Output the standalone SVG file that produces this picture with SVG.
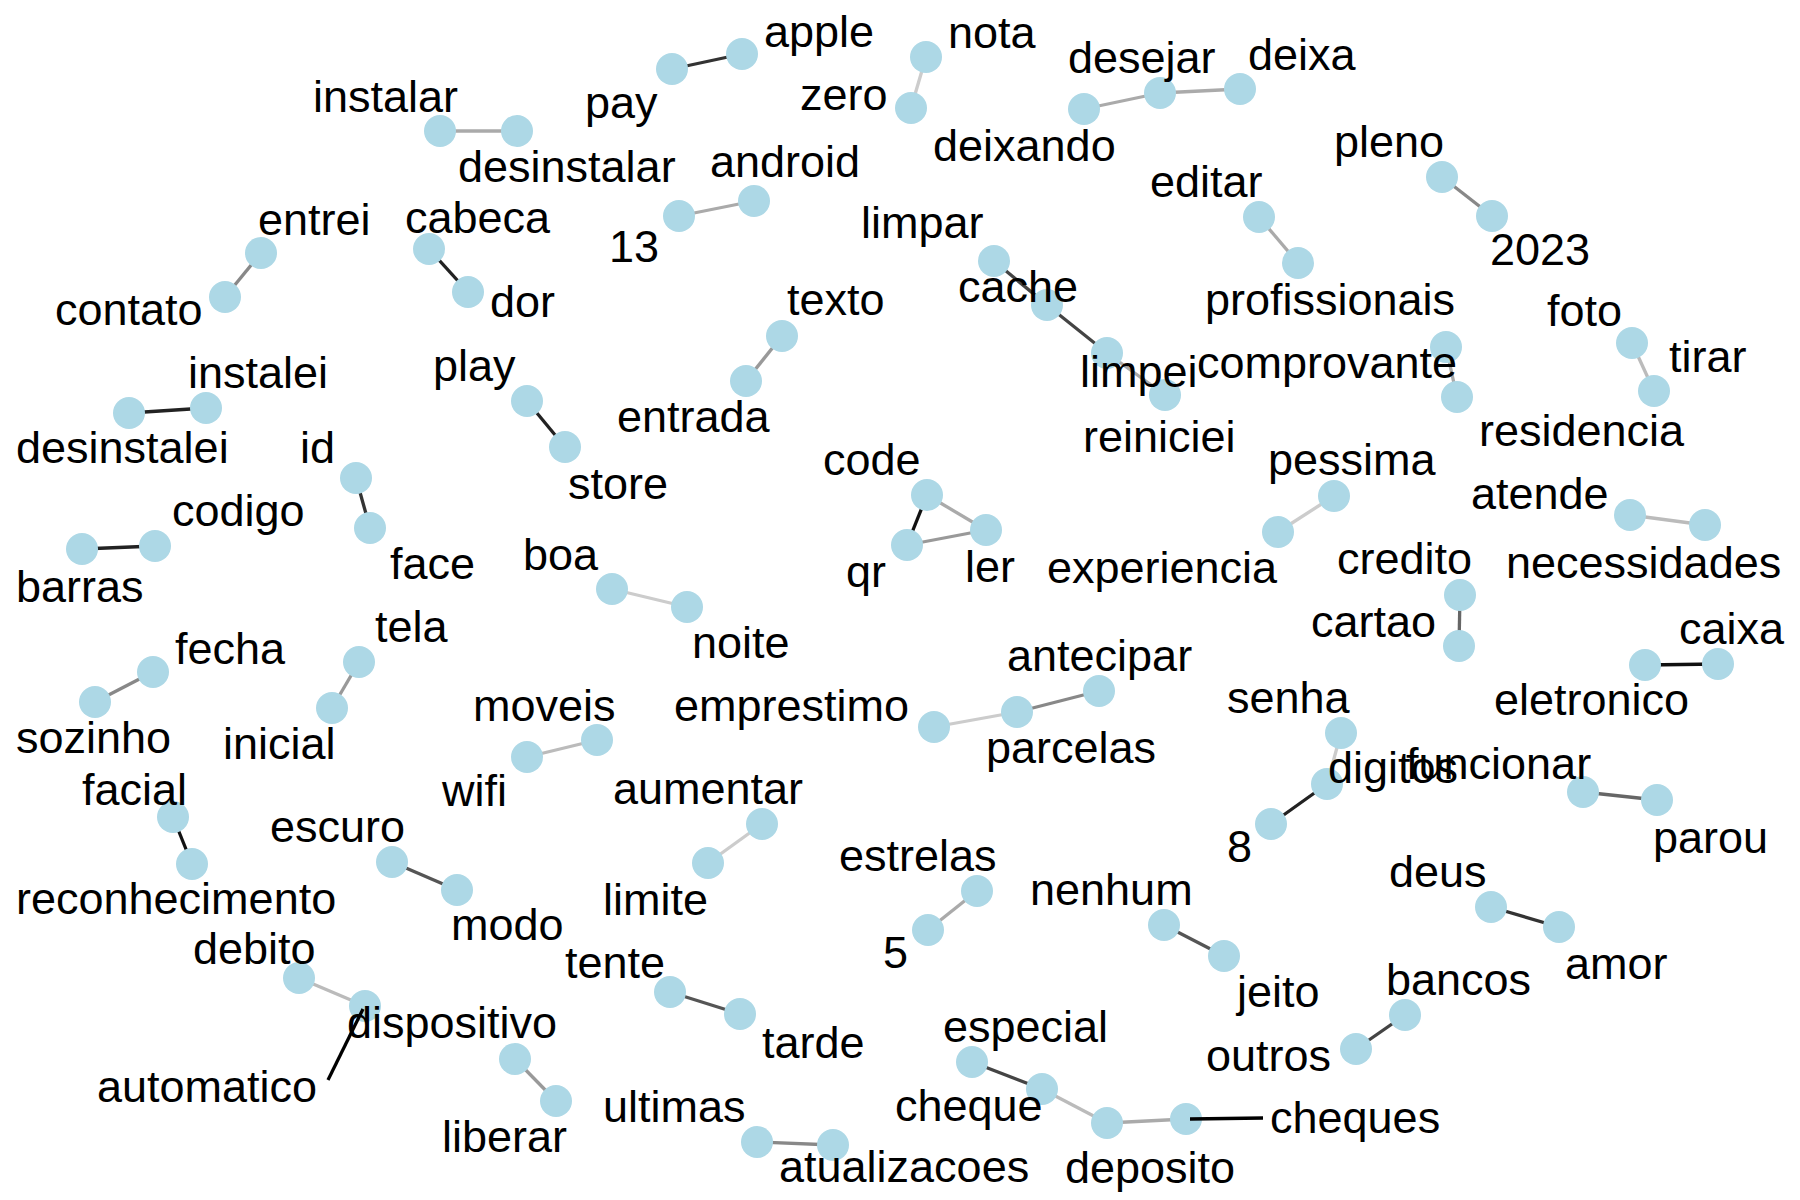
<svg xmlns="http://www.w3.org/2000/svg" width="1800" height="1200" viewBox="0 0 1800 1200">
  <style>
    .bg { fill: #ffffff; }
    .edge { stroke-width: 3.3; stroke-linecap: butt; fill: none; }
    .g1 { stroke: #111111; }
    .g2 { stroke: #222222; }
    .g3 { stroke: #333333; }
    .g4 { stroke: #444444; }
    .g5 { stroke: #555555; }
    .g6 { stroke: #666666; }
    .g8 { stroke: #888888; }
    .g9 { stroke: #999999; }
    .ga { stroke: #aaaaaa; }
    .gb { stroke: #bbbbbb; }
    .gc { stroke: #cccccc; }
    .node circle { fill: #add8e6; }
    .node text { font-family: "Liberation Sans", Arial, Helvetica, sans-serif; font-size: 45px; fill: #000000; }
    .leader { stroke: #000000; stroke-width: 3.3; fill: none; }
  </style>
  <rect class="bg" x="0" y="0" width="1800" height="1200"/>

  <!-- word pair links -->
  <g id="connectors">
    <line class="edge ga" x1="440" y1="131" x2="517" y2="131"/>
    <line class="edge g3" x1="672" y1="69" x2="742" y2="54"/>
    <line class="edge gc" x1="911" y1="108" x2="926" y2="57"/>
    <line class="edge ga" x1="1084" y1="109" x2="1160" y2="93"/>
    <line class="edge ga" x1="1160" y1="93" x2="1240" y2="89"/>
    <line class="edge ga" x1="679" y1="216" x2="754" y2="201"/>
    <line class="edge g8" x1="261" y1="253" x2="225" y2="297"/>
    <line class="edge g2" x1="429" y1="249" x2="468" y2="292"/>
    <line class="edge g8" x1="1442" y1="177" x2="1492" y2="216"/>
    <line class="edge ga" x1="1259" y1="217" x2="1298" y2="263"/>
    <line class="edge g4" x1="994" y1="261" x2="1047" y2="305"/>
    <line class="edge g4" x1="1047" y1="305" x2="1107" y2="353"/>
    <line class="edge ga" x1="1107" y1="353" x2="1165" y2="395"/>
    <line class="edge g9" x1="782" y1="336" x2="746" y2="381"/>
    <line class="edge ga" x1="1446" y1="347" x2="1457" y2="397"/>
    <line class="edge gb" x1="1632" y1="343" x2="1654" y2="391"/>
    <line class="edge g2" x1="206" y1="408" x2="129" y2="413"/>
    <line class="edge g2" x1="527" y1="401" x2="565" y2="447"/>
    <line class="edge g3" x1="356" y1="478" x2="370" y2="528"/>
    <line class="edge g2" x1="155" y1="546" x2="82" y2="549"/>
    <line class="edge g1" x1="927" y1="495" x2="907" y2="545"/>
    <line class="edge ga" x1="927" y1="495" x2="986" y2="530"/>
    <line class="edge g9" x1="907" y1="545" x2="986" y2="530"/>
    <line class="edge gc" x1="1334" y1="496" x2="1278" y2="532"/>
    <line class="edge gb" x1="1630" y1="515" x2="1705" y2="525"/>
    <line class="edge gc" x1="612" y1="589" x2="687" y2="607"/>
    <line class="edge g6" x1="1460" y1="595" x2="1459" y2="646"/>
    <line class="edge g8" x1="153" y1="672" x2="95" y2="702"/>
    <line class="edge g9" x1="359" y1="662" x2="332" y2="708"/>
    <line class="edge gc" x1="934" y1="727" x2="1017" y2="712"/>
    <line class="edge g8" x1="1017" y1="712" x2="1099" y2="691"/>
    <line class="edge g1" x1="1718" y1="664" x2="1645" y2="665"/>
    <line class="edge gb" x1="597" y1="740" x2="527" y2="757"/>
    <line class="edge gc" x1="1341" y1="733" x2="1327" y2="784"/>
    <line class="edge g2" x1="1327" y1="784" x2="1271" y2="824"/>
    <line class="edge g6" x1="1583" y1="792" x2="1657" y2="800"/>
    <line class="edge g1" x1="173" y1="817" x2="192" y2="864"/>
    <line class="edge g5" x1="392" y1="862" x2="457" y2="890"/>
    <line class="edge gc" x1="762" y1="824" x2="708" y2="863"/>
    <line class="edge ga" x1="977" y1="891" x2="928" y2="930"/>
    <line class="edge g5" x1="1164" y1="925" x2="1224" y2="956"/>
    <line class="edge g3" x1="1491" y1="907" x2="1559" y2="927"/>
    <line class="edge gb" x1="299" y1="978" x2="365" y2="1006"/>
    <line class="edge g9" x1="515" y1="1059" x2="556" y2="1101"/>
    <line class="edge g5" x1="670" y1="992" x2="740" y2="1014"/>
    <line class="edge g8" x1="757" y1="1142" x2="833" y2="1145"/>
    <line class="edge g4" x1="972" y1="1062" x2="1042" y2="1089"/>
    <line class="edge gb" x1="1042" y1="1089" x2="1107" y2="1123"/>
    <line class="edge ga" x1="1107" y1="1123" x2="1186" y2="1119"/>
    <line class="edge g4" x1="1356" y1="1049" x2="1405" y2="1015"/>
  </g>

  <!-- words -->
  <g id="n-instalar" class="node"><circle cx="440" cy="131" r="16"/><text x="313" y="112">instalar</text></g>
  <g id="n-desinstalar" class="node"><circle cx="517" cy="131" r="16"/><text x="458" y="182">desinstalar</text></g>
  <g id="n-pay" class="node"><circle cx="672" cy="69" r="16"/><text x="585" y="118">pay</text></g>
  <g id="n-apple" class="node"><circle cx="742" cy="54" r="16"/><text x="764" y="47">apple</text></g>
  <g id="n-zero" class="node"><circle cx="911" cy="108" r="16"/><text x="800" y="110">zero</text></g>
  <g id="n-nota" class="node"><circle cx="926" cy="57" r="16"/><text x="948" y="48">nota</text></g>
  <g id="n-deixando" class="node"><circle cx="1084" cy="109" r="16"/><text x="933" y="161">deixando</text></g>
  <g id="n-desejar" class="node"><circle cx="1160" cy="93" r="16"/><text x="1068" y="73">desejar</text></g>
  <g id="n-deixa" class="node"><circle cx="1240" cy="89" r="16"/><text x="1248" y="70">deixa</text></g>
  <g id="n-13" class="node"><circle cx="679" cy="216" r="16"/><text x="609" y="262">13</text></g>
  <g id="n-android" class="node"><circle cx="754" cy="201" r="16"/><text x="710" y="177">android</text></g>
  <g id="n-entrei" class="node"><circle cx="261" cy="253" r="16"/><text x="258" y="235">entrei</text></g>
  <g id="n-contato" class="node"><circle cx="225" cy="297" r="16"/><text x="55" y="325">contato</text></g>
  <g id="n-cabeca" class="node"><circle cx="429" cy="249" r="16"/><text x="405" y="233">cabeca</text></g>
  <g id="n-dor" class="node"><circle cx="468" cy="292" r="16"/><text x="490" y="317">dor</text></g>
  <g id="n-pleno" class="node"><circle cx="1442" cy="177" r="16"/><text x="1334" y="157">pleno</text></g>
  <g id="n-2023" class="node"><circle cx="1492" cy="216" r="16"/><text x="1490" y="265">2023</text></g>
  <g id="n-editar" class="node"><circle cx="1259" cy="217" r="16"/><text x="1150" y="197">editar</text></g>
  <g id="n-profissionais" class="node"><circle cx="1298" cy="263" r="16"/><text x="1205" y="315">profissionais</text></g>
  <g id="n-reiniciei" class="node"><circle cx="1165" cy="395" r="16"/><text x="1083" y="452">reiniciei</text></g>
  <g id="n-limpar" class="node"><circle cx="994" cy="261" r="16"/><text x="861" y="238">limpar</text></g>
  <g id="n-cache" class="node"><circle cx="1047" cy="305" r="16"/><text x="958" y="302">cache</text></g>
  <g id="n-limpei" class="node"><circle cx="1107" cy="353" r="16"/><text x="1080" y="387">limpei</text></g>
  <g id="n-texto" class="node"><circle cx="782" cy="336" r="16"/><text x="787" y="315">texto</text></g>
  <g id="n-entrada" class="node"><circle cx="746" cy="381" r="16"/><text x="617" y="432">entrada</text></g>
  <g id="n-comprovante" class="node"><circle cx="1446" cy="347" r="16"/><text x="1197" y="378">comprovante</text></g>
  <g id="n-residencia" class="node"><circle cx="1457" cy="397" r="16"/><text x="1479" y="446">residencia</text></g>
  <g id="n-foto" class="node"><circle cx="1632" cy="343" r="16"/><text x="1547" y="326">foto</text></g>
  <g id="n-tirar" class="node"><circle cx="1654" cy="391" r="16"/><text x="1669" y="372">tirar</text></g>
  <g id="n-instalei" class="node"><circle cx="206" cy="408" r="16"/><text x="188" y="388">instalei</text></g>
  <g id="n-desinstalei" class="node"><circle cx="129" cy="413" r="16"/><text x="16" y="463">desinstalei</text></g>
  <g id="n-play" class="node"><circle cx="527" cy="401" r="16"/><text x="433" y="381">play</text></g>
  <g id="n-store" class="node"><circle cx="565" cy="447" r="16"/><text x="568" y="499">store</text></g>
  <g id="n-id" class="node"><circle cx="356" cy="478" r="16"/><text x="300" y="463">id</text></g>
  <g id="n-face" class="node"><circle cx="370" cy="528" r="16"/><text x="390" y="579">face</text></g>
  <g id="n-codigo" class="node"><circle cx="155" cy="546" r="16"/><text x="172" y="526">codigo</text></g>
  <g id="n-barras" class="node"><circle cx="82" cy="549" r="16"/><text x="16" y="602">barras</text></g>
  <g id="n-code" class="node"><circle cx="927" cy="495" r="16"/><text x="823" y="475">code</text></g>
  <g id="n-qr" class="node"><circle cx="907" cy="545" r="16"/><text x="846" y="587">qr</text></g>
  <g id="n-ler" class="node"><circle cx="986" cy="530" r="16"/><text x="965" y="582">ler</text></g>
  <g id="n-pessima" class="node"><circle cx="1334" cy="496" r="16"/><text x="1268" y="475">pessima</text></g>
  <g id="n-experiencia" class="node"><circle cx="1278" cy="532" r="16"/><text x="1047" y="583">experiencia</text></g>
  <g id="n-atende" class="node"><circle cx="1630" cy="515" r="16"/><text x="1471" y="509">atende</text></g>
  <g id="n-necessidades" class="node"><circle cx="1705" cy="525" r="16"/><text x="1506" y="578">necessidades</text></g>
  <g id="n-boa" class="node"><circle cx="612" cy="589" r="16"/><text x="523" y="570">boa</text></g>
  <g id="n-noite" class="node"><circle cx="687" cy="607" r="16"/><text x="692" y="658">noite</text></g>
  <g id="n-credito" class="node"><circle cx="1460" cy="595" r="16"/><text x="1337" y="574">credito</text></g>
  <g id="n-cartao" class="node"><circle cx="1459" cy="646" r="16"/><text x="1311" y="637">cartao</text></g>
  <g id="n-fecha" class="node"><circle cx="153" cy="672" r="16"/><text x="175" y="664">fecha</text></g>
  <g id="n-sozinho" class="node"><circle cx="95" cy="702" r="16"/><text x="16" y="753">sozinho</text></g>
  <g id="n-tela" class="node"><circle cx="359" cy="662" r="16"/><text x="375" y="642">tela</text></g>
  <g id="n-inicial" class="node"><circle cx="332" cy="708" r="16"/><text x="223" y="759">inicial</text></g>
  <g id="n-emprestimo" class="node"><circle cx="934" cy="727" r="16"/><text x="674" y="721">emprestimo</text></g>
  <g id="n-parcelas" class="node"><circle cx="1017" cy="712" r="16"/><text x="986" y="763">parcelas</text></g>
  <g id="n-antecipar" class="node"><circle cx="1099" cy="691" r="16"/><text x="1007" y="671">antecipar</text></g>
  <g id="n-caixa" class="node"><circle cx="1718" cy="664" r="16"/><text x="1679" y="644">caixa</text></g>
  <g id="n-eletronico" class="node"><circle cx="1645" cy="665" r="16"/><text x="1494" y="715">eletronico</text></g>
  <g id="n-moveis" class="node"><circle cx="597" cy="740" r="16"/><text x="473" y="721">moveis</text></g>
  <g id="n-wifi" class="node"><circle cx="527" cy="757" r="16"/><text x="442" y="806">wifi</text></g>
  <g id="n-senha" class="node"><circle cx="1341" cy="733" r="16"/><text x="1227" y="713">senha</text></g>
  <g id="n-digitos" class="node"><circle cx="1327" cy="784" r="16"/><text x="1328" y="783">digitos</text></g>
  <g id="n-8" class="node"><circle cx="1271" cy="824" r="16"/><text x="1227" y="862">8</text></g>
  <g id="n-funcionar" class="node"><circle cx="1583" cy="792" r="16"/><text x="1406" y="779">funcionar</text></g>
  <g id="n-parou" class="node"><circle cx="1657" cy="800" r="16"/><text x="1653" y="853">parou</text></g>
  <g id="n-facial" class="node"><circle cx="173" cy="817" r="16"/><text x="82" y="805">facial</text></g>
  <g id="n-reconhecimento" class="node"><circle cx="192" cy="864" r="16"/><text x="16" y="914">reconhecimento</text></g>
  <g id="n-escuro" class="node"><circle cx="392" cy="862" r="16"/><text x="270" y="842">escuro</text></g>
  <g id="n-modo" class="node"><circle cx="457" cy="890" r="16"/><text x="451" y="940">modo</text></g>
  <g id="n-aumentar" class="node"><circle cx="762" cy="824" r="16"/><text x="613" y="804">aumentar</text></g>
  <g id="n-limite" class="node"><circle cx="708" cy="863" r="16"/><text x="603" y="915">limite</text></g>
  <g id="n-estrelas" class="node"><circle cx="977" cy="891" r="16"/><text x="839" y="871">estrelas</text></g>
  <g id="n-5" class="node"><circle cx="928" cy="930" r="16"/><text x="883" y="968">5</text></g>
  <g id="n-nenhum" class="node"><circle cx="1164" cy="925" r="16"/><text x="1030" y="905">nenhum</text></g>
  <g id="n-jeito" class="node"><circle cx="1224" cy="956" r="16"/><text x="1237" y="1007">jeito</text></g>
  <g id="n-deus" class="node"><circle cx="1491" cy="907" r="16"/><text x="1389" y="887">deus</text></g>
  <g id="n-amor" class="node"><circle cx="1559" cy="927" r="16"/><text x="1565" y="979">amor</text></g>
  <g id="n-debito" class="node"><circle cx="299" cy="978" r="16"/><text x="193" y="964">debito</text></g>
  <g id="n-automatico" class="node"><circle cx="365" cy="1006" r="16"/><line class="leader" x1="328" y1="1080" x2="363" y2="1009"/><text x="97" y="1102">automatico</text></g>
  <g id="n-dispositivo" class="node"><circle cx="515" cy="1059" r="16"/><text x="347" y="1038">dispositivo</text></g>
  <g id="n-liberar" class="node"><circle cx="556" cy="1101" r="16"/><text x="442" y="1152">liberar</text></g>
  <g id="n-tente" class="node"><circle cx="670" cy="992" r="16"/><text x="565" y="978">tente</text></g>
  <g id="n-tarde" class="node"><circle cx="740" cy="1014" r="16"/><text x="762" y="1058">tarde</text></g>
  <g id="n-ultimas" class="node"><circle cx="757" cy="1142" r="16"/><text x="603" y="1122">ultimas</text></g>
  <g id="n-atualizacoes" class="node"><circle cx="833" cy="1145" r="16"/><text x="779" y="1182">atualizacoes</text></g>
  <g id="n-especial" class="node"><circle cx="972" cy="1062" r="16"/><text x="943" y="1042">especial</text></g>
  <g id="n-cheque" class="node"><circle cx="1042" cy="1089" r="16"/><text x="895" y="1121">cheque</text></g>
  <g id="n-deposito" class="node"><circle cx="1107" cy="1123" r="16"/><text x="1065" y="1183">deposito</text></g>
  <g id="n-cheques" class="node"><circle cx="1186" cy="1119" r="16"/><line class="leader" x1="1190" y1="1119" x2="1263" y2="1118"/><text x="1270" y="1133">cheques</text></g>
  <g id="n-outros" class="node"><circle cx="1356" cy="1049" r="16"/><text x="1206" y="1071">outros</text></g>
  <g id="n-bancos" class="node"><circle cx="1405" cy="1015" r="16"/><text x="1386" y="995">bancos</text></g>
</svg>
